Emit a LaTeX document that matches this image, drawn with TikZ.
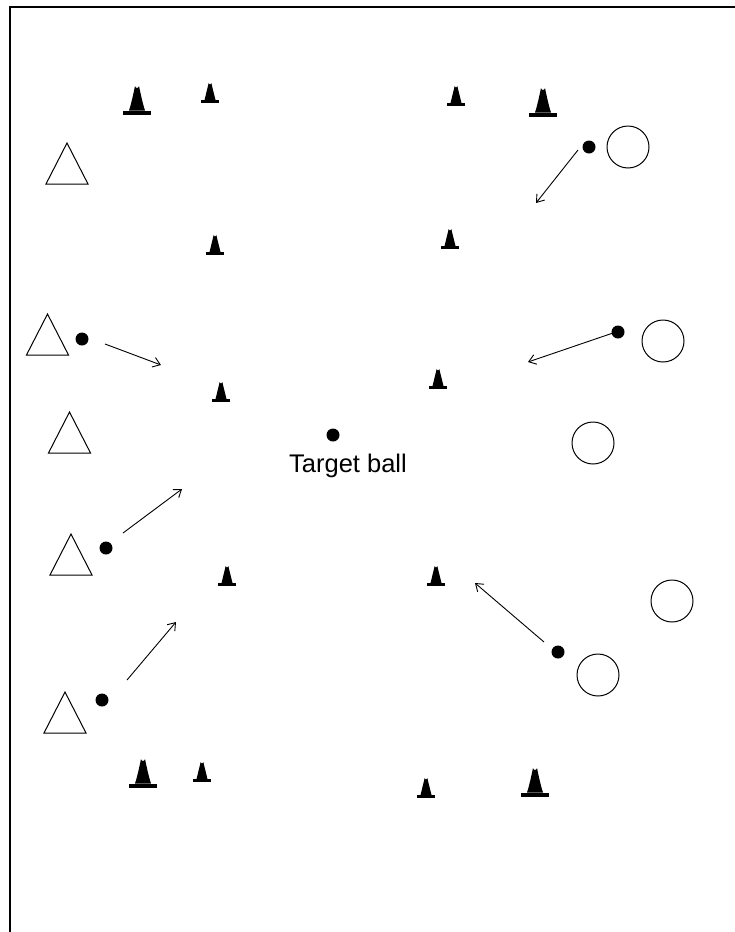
\documentclass[tikz,border=0pt]{standalone}
\usepackage{fontspec}
\setmainfont{Liberation Sans}
\usetikzlibrary{arrows.meta}
\begin{document}
\begin{tikzpicture}[x=1pt,y=-1pt,
  ball/.style={circle,fill=black,inner sep=0pt,minimum size=13pt},
  player/.style={circle,draw=black,line width=1pt,inner sep=0pt,minimum size=42pt},
  pass/.style={line width=0.9pt,-{Straight Barb[length=7pt,width=10pt]}},
  smallcone/.pic={
    \fill (-9,0) rectangle (9,-3);
    \fill (-5.5,-3) .. controls (-4,-9) and (-2.5,-15) .. (-1.4,-19.8)
      arc[start angle=180,end angle=0,radius=1.4]
      .. controls (2.5,-15) and (4,-9) .. (5.5,-3) -- cycle;
  },
  bigcone/.pic={
    \fill (-14,0) rectangle (14,-4.5);
    \fill (-8,-4.5) .. controls (-5.5,-12) and (-3.5,-22) .. (-2,-29)
      arc[start angle=180,end angle=0,radius=2]
      .. controls (3.5,-22) and (5.5,-12) .. (8,-4.5) -- cycle;
  },
  tri/.pic={
    \draw[line width=1pt,line join=miter] (-21,0) -- (0,-41) -- (21,0) -- cycle;
  }]
\fill[white] (0,0) rectangle (735,932);
\useasboundingbox (0,0) rectangle (735,932);
% frame
\draw[line width=2pt] (10,932) -- (10,7) -- (734.9,7);
% big cones
\pic at (137,115) {bigcone};
\pic at (543,117) {bigcone};
\pic at (143,788) {bigcone};
\pic at (535,797) {bigcone};
% small cones
\pic at (210,103) {smallcone};
\pic at (456,106) {smallcone};
\pic at (215,255) {smallcone};
\pic at (450,249) {smallcone};
\pic at (221,402) {smallcone};
\pic at (438,389) {smallcone};
\pic at (227,586) {smallcone};
\pic at (436,586) {smallcone};
\pic at (202,782) {smallcone};
\pic at (426,798) {smallcone};
% triangles (players)
\pic at (67,184) {tri};
\pic at (47.5,355) {tri};
\pic at (69.5,453) {tri};
\pic at (71,575) {tri};
\pic at (65,733) {tri};
% circles (players)
\node[player] (c1) at (628,147) {};
\node[player] (c2) at (663,341) {};
\node[player] (c3) at (593,443) {};
\node[player] (c4) at (672,601) {};
\node[player] (c5) at (598,675) {};
% balls
\node[ball] (b1) at (589,147) {};
\node[ball] (b2) at (82,339) {};
\node[ball] (b3) at (106,548) {};
\node[ball] (b4) at (102,700) {};
\node[ball] (tb) at (333,435) {};
\node[ball] (b5) at (618,332) {};
\node[ball] (b6) at (558,652) {};
\node[font=\fontsize{25.5}{30}\selectfont] (tl) at (348,466) {Target ball};
% arrows
\coordinate (a1s) at (578,150); \coordinate (a1e) at (536,203);
\coordinate (a2s) at (105,344); \coordinate (a2e) at (161,365);
\coordinate (a3s) at (123,533); \coordinate (a3e) at (182,489);
\coordinate (a4s) at (127,680); \coordinate (a4e) at (176,622);
\coordinate (a5s) at (613,333); \coordinate (a5e) at (528,362);
\coordinate (a6s) at (544,642); \coordinate (a6e) at (475,583);
\draw[pass] (a1s) -- (a1e);
\draw[pass] (a2s) -- (a2e);
\draw[pass] (a3s) -- (a3e);
\draw[pass] (a4s) -- (a4e);
\draw[pass] (a5s) -- (a5e);
\draw[pass] (a6s) -- (a6e);
\end{tikzpicture}
\end{document}
